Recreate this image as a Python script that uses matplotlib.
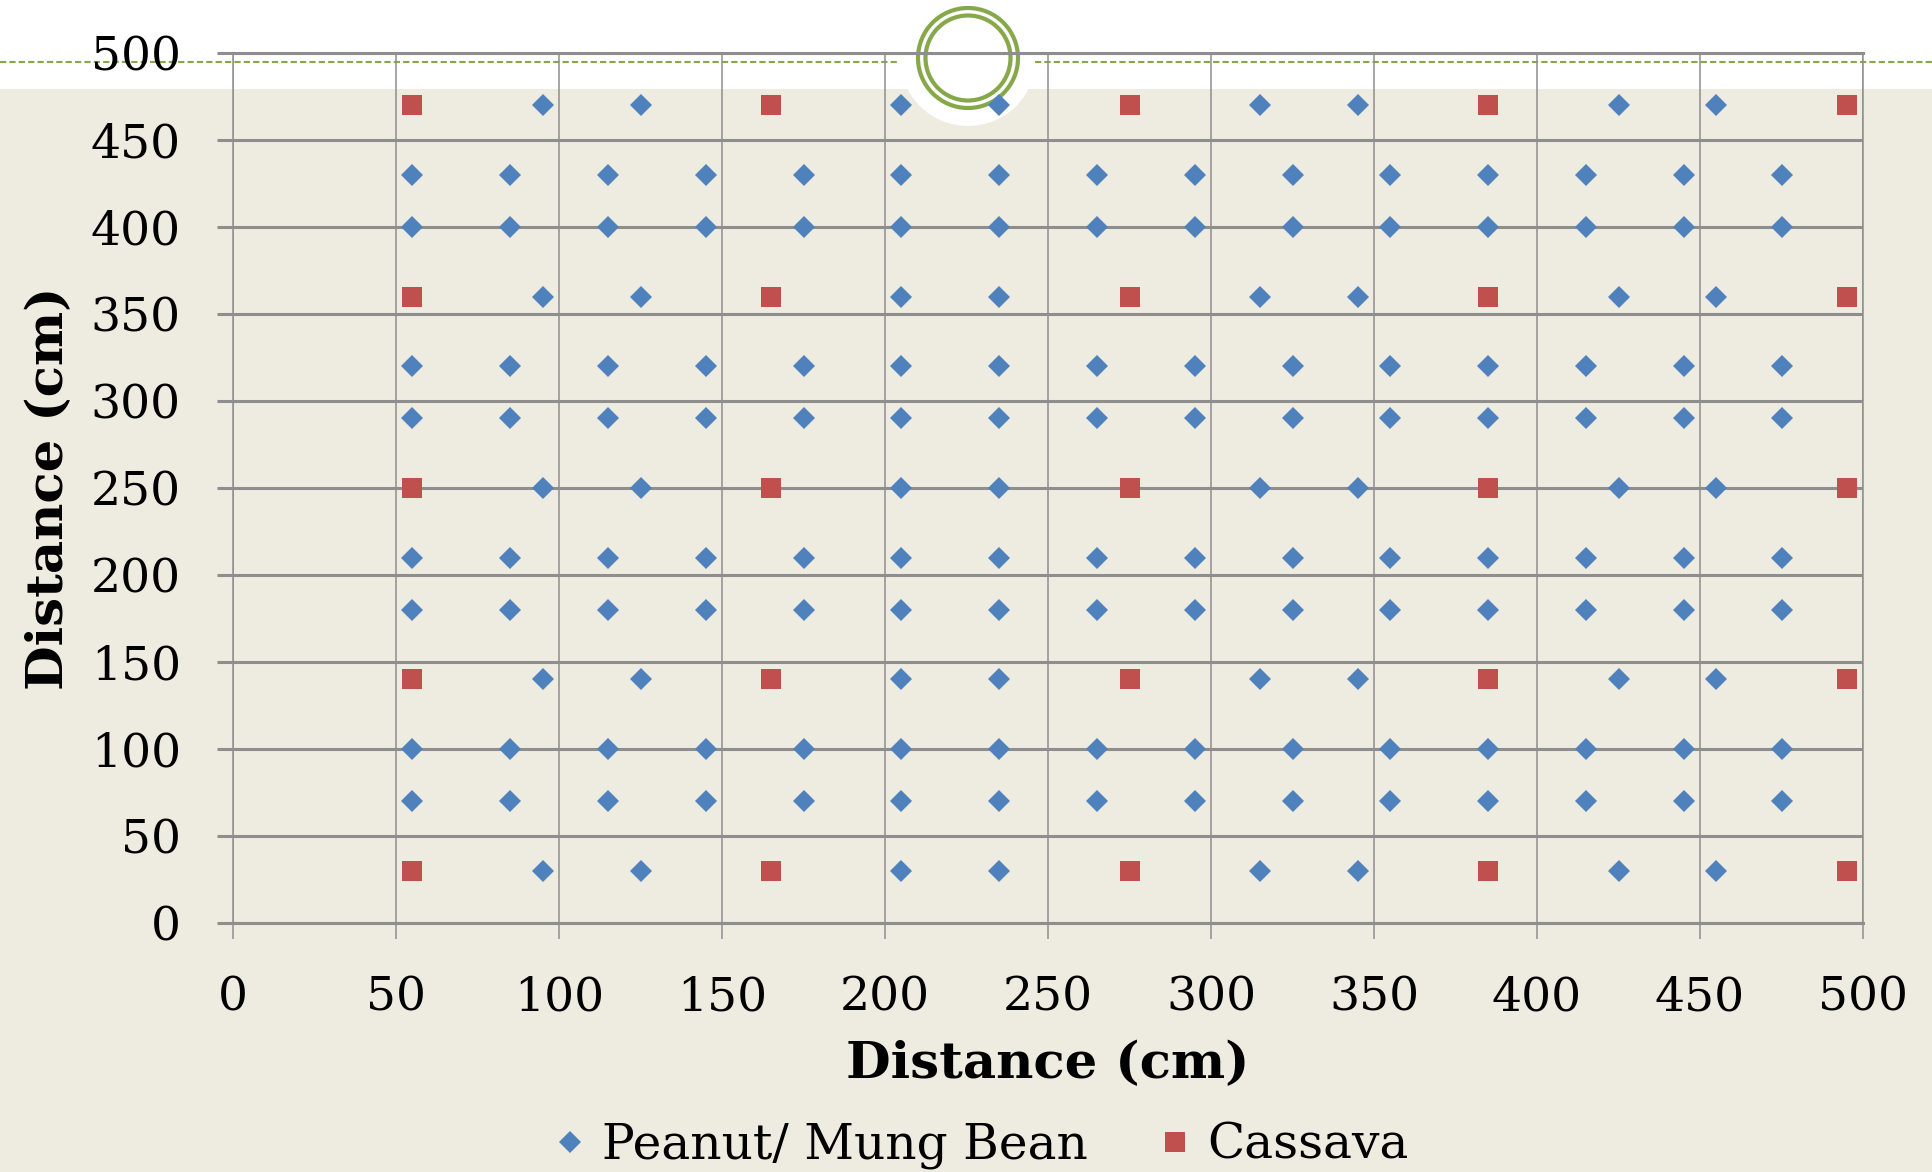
import matplotlib.pyplot as plt
from matplotlib.patches import Rectangle, Circle
from matplotlib.lines import Line2D

# Daten
cassava_x = [55, 165, 275, 385, 495]
cassava_y = [30, 140, 250, 360, 470]
# Erdnuss in den Maniok-Reihen
peanut_x_in_cassava_rows = [95, 125, 205, 235, 315, 345, 425, 455]
# reine Erdnuss-Reihen
peanut_rows_y = [70, 100, 180, 210, 290, 320, 400, 430]
peanut_rows_x = [55, 85, 115, 145, 175, 205, 235, 265, 295, 325, 355, 385, 415, 445, 475]
ticks = [0, 50, 100, 150, 200, 250, 300, 350, 400, 450, 500]

blue = "#4F81BD"
red = "#C0504D"
gray = "#8E8E8E"
beige = "#EEEBE0"
green = "#86A84A"

W, H = 1932, 1172
fig = plt.figure(figsize=(W / 100, H / 100), dpi=100, facecolor=beige)
plt.rcParams["font.family"] = ["DejaVu Serif"]

# Hintergrund (Folienlayout)
bg = fig.add_axes([0, 0, 1, 1], zorder=0)
bg.set_xlim(0, W)
bg.set_ylim(H, 0)
bg.axis("off")
bg.add_patch(Rectangle((0, 0), W, 89, facecolor="white", edgecolor="none"))
bg.add_patch(Circle((968, 58), 68, facecolor="white", edgecolor="none"))
bg.plot([0, 898], [62, 62], color=green, lw=1.5, ls=(0, (3, 1.5)))
bg.plot([1035, W], [62, 62], color=green, lw=1.5, ls=(0, (3, 1.5)))
bg.add_patch(Circle((968, 58), 50, facecolor="none", edgecolor=green, lw=3))
bg.add_patch(Circle((968, 58), 42.5, facecolor="none", edgecolor=green, lw=3))

ax = fig.add_axes([233 / W, 1 - 923 / H, 1630 / W, 870 / H], zorder=1)
ax.set_facecolor("none")

# Punkte
for y in cassava_y:
    ax.plot(peanut_x_in_cassava_rows, [y] * len(peanut_x_in_cassava_rows), ls="none",
            marker="D", ms=11, color=blue, mew=0, clip_on=False)
    ax.plot(cassava_x, [y] * len(cassava_x), ls="none",
            marker="s", ms=15, color=red, mew=0, clip_on=False)
for y in peanut_rows_y:
    ax.plot(peanut_rows_x, [y] * len(peanut_rows_x), ls="none",
            marker="D", ms=11, color=blue, mew=0, clip_on=False)

ax.set_xlim(0, 500)
ax.set_ylim(0, 500)
ax.set_xticks(ticks)
ax.set_yticks(ticks)
ax.set_axisbelow(True)
ax.xaxis.grid(True, color=gray, lw=1.1)
ax.yaxis.grid(True, color=gray, lw=2.2)
for s in ["left", "right"]:
    ax.spines[s].set_color(gray)
    ax.spines[s].set_linewidth(1.1)
for s in ["top", "bottom"]:
    ax.spines[s].set_color(gray)
    ax.spines[s].set_linewidth(2.2)
ax.tick_params(axis="x", length=11.5, width=1.1, color=gray, labelsize=34, pad=26)
ax.tick_params(axis="y", length=11.5, width=2.2, color=gray, labelsize=34, pad=26)

ax.set_xlabel("Distance (cm)", fontsize=37, fontweight="bold", labelpad=14)
ax.set_ylabel("Distance (cm)", fontsize=37, fontweight="bold", labelpad=12)

handles = [
    Line2D([], [], ls="none", marker="D", ms=11, color=blue, mew=0),
    Line2D([], [], ls="none", marker="s", ms=15, color=red, mew=0),
]
fig.legend(handles, ["Peanut/ Mung Bean", "Cassava"], loc="lower center",
           bbox_to_anchor=(0.507, -0.035), ncol=2, frameon=False, fontsize=35,
           handlelength=0.8, handletextpad=0.25, columnspacing=1.4)

fig.savefig("out.png", dpi=100, facecolor=beige)
